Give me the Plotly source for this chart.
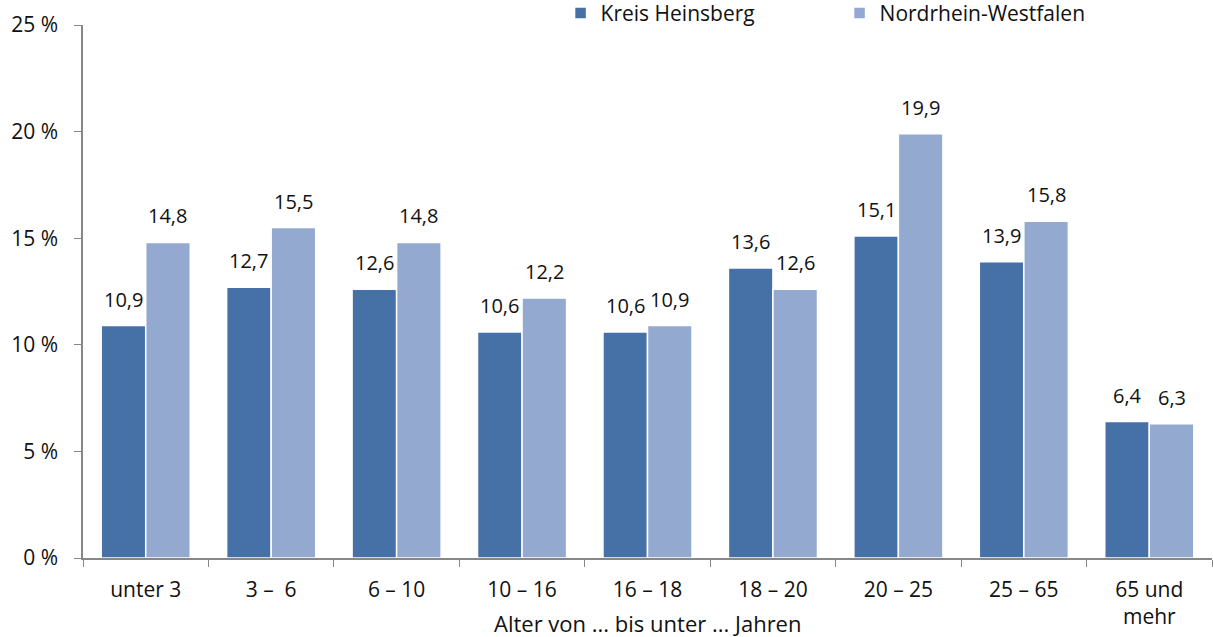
import plotly.graph_objects as go

categories = ["unter 3", "3 –  6", "6 – 10", "10 – 16", "16 – 18", "18 – 20", "20 – 25", "25 – 65", "65 und<br>mehr"]
heinsberg = [10.9, 12.7, 12.6, 10.6, 10.6, 13.6, 15.1, 13.9, 6.4]
nrw = [14.8, 15.5, 14.8, 12.2, 10.9, 12.6, 19.9, 15.8, 6.3]
y_ticks = [0, 5, 10, 15, 20, 25]
y_tick_labels = ["0 %", "5 %", "10 %", "15 %", "20 %", "25 %"]
x_title = "Alter von ... bis unter ... Jahren"

FONT = "'Open Sans', 'Liberation Sans', sans-serif"
TXT = "#111111"
BARGAP = 0.29

fig = go.Figure()
fig.add_trace(go.Bar(
    name="Kreis Heinsberg", x=categories, y=heinsberg,
    marker=dict(color="#4571A6", line=dict(color="white", width=1.5)),
))
fig.add_trace(go.Bar(
    name="Nordrhein-Westfalen", x=categories, y=nrw,
    marker=dict(color="#93A9CF", line=dict(color="white", width=1.5)),
))

# value labels above each bar (category index +- half bar width)
half = (1 - BARGAP) / 4
for i, (a, b) in enumerate(zip(heinsberg, nrw)):
    for off, v in ((-half, a), (half, b)):
        fig.add_annotation(
            x=i + off, y=v, xref="x", yref="y", text=f"{v:.1f}".replace(".", ","),
            showarrow=False, xanchor="center", yanchor="bottom", yshift=11,
            font=dict(size=20, family=FONT, color=TXT),
        )

fig.add_annotation(
    text=x_title, xref="paper", yref="paper", x=0.5, y=-0.122,
    xanchor="center", yanchor="middle", showarrow=False,
    font=dict(size=22, family=FONT, color=TXT),
)

fig.update_layout(
    width=1213, height=637,
    margin=dict(l=83, r=1, t=25, b=79, autoexpand=False),
    paper_bgcolor="white", plot_bgcolor="white",
    separators=",.",
    barmode="group", bargap=BARGAP, bargroupgap=0.0,
    font=dict(family=FONT, size=21, color=TXT),
    legend=dict(
        orientation="h", x=0.423, xanchor="left", y=1.022, yanchor="middle",
        font=dict(size=21, family=FONT, color=TXT), entrywidth=234, entrywidthmode="pixels",
        itemwidth=30, bgcolor="rgba(0,0,0,0)",
    ),
    xaxis=dict(
        showline=True, linecolor="#878787", linewidth=1.5,
        ticks="outside", tickson="boundaries", ticklen=7, tickcolor="#878787",
        tickfont=dict(size=21), automargin=False, ticklabelstandoff=12,
    ),
    yaxis=dict(
        range=[0, 25], tickvals=y_ticks, ticktext=y_tick_labels,
        showline=True, linecolor="#878787", linewidth=1.5,
        ticks="outside", ticklen=7, tickcolor="#878787",
        showgrid=False, zeroline=False, tickfont=dict(size=21), automargin=False,
        ticklabelstandoff=12,
    ),
)

fig.write_html("out.html", config={"displayModeBar": False},
               post_script="document.body.style.margin='0';")
